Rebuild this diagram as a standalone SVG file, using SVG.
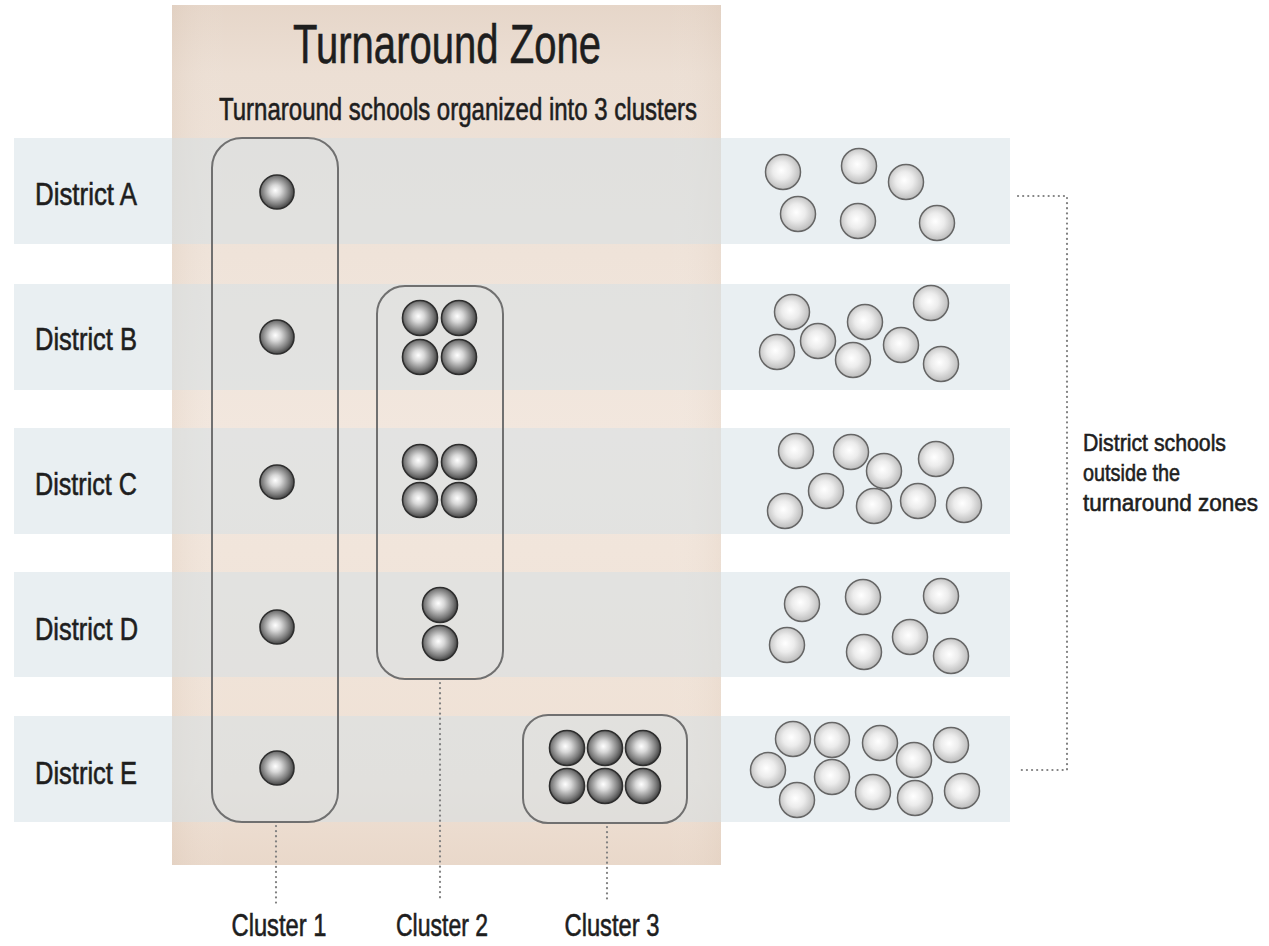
<svg xmlns="http://www.w3.org/2000/svg" width="1269" height="946" viewBox="0 0 1269 946">
<defs>
<style>
text{font-family:"Liberation Sans","DejaVu Sans",sans-serif;fill:#1e1e1e;stroke:#1e1e1e;stroke-width:0.6}
.dist{font-size:32px}
.clab{font-size:32px;text-anchor:middle}
.band{fill:#d4dfe6;opacity:.5}
.cl{fill:none;stroke:#707070;stroke-width:2}
.db{fill:url(#dark);stroke:#2e2e2e;stroke-width:1.6}
.lb{fill:url(#light);stroke:#666;stroke-width:1.5}
.dot{fill:none;stroke:#808080;stroke-width:2.2;stroke-linecap:round;stroke-dasharray:0.1 5}
</style>
<linearGradient id="zoneg" x1="0" y1="0" x2="0" y2="1">
<stop offset="0" stop-color="#e6d6c9"/>
<stop offset="0.08" stop-color="#ecdfd4"/>
<stop offset="0.5" stop-color="#f2e7de"/>
<stop offset="0.9" stop-color="#efe1d5"/>
<stop offset="1" stop-color="#e9d8ca"/>
</linearGradient>
<linearGradient id="zoneh" x1="0" y1="0" x2="1" y2="0">
<stop offset="0" stop-color="#c9b09a" stop-opacity="0.15"/>
<stop offset="0.1" stop-color="#ffffff" stop-opacity="0"/>
<stop offset="0.9" stop-color="#ffffff" stop-opacity="0"/>
<stop offset="1" stop-color="#c9b09a" stop-opacity="0.12"/>
</linearGradient>
<radialGradient id="dark" cx="0.47" cy="0.47" r="0.55" fx="0.45" fy="0.45">
<stop offset="0" stop-color="#ffffff"/>
<stop offset="0.3" stop-color="#d8d8d8"/>
<stop offset="0.75" stop-color="#7a7a7a"/>
<stop offset="1" stop-color="#3c3c3c"/>
</radialGradient>
<radialGradient id="light" cx="0.47" cy="0.47" r="0.55" fx="0.45" fy="0.45">
<stop offset="0" stop-color="#ffffff"/>
<stop offset="0.45" stop-color="#ececec"/>
<stop offset="1" stop-color="#b9b9b9"/>
</radialGradient>
</defs>

<rect width="1269" height="946" fill="#ffffff"/>

<g id="zone">
<rect x="172" y="5" width="549" height="860" fill="url(#zoneg)"/>
<rect x="172" y="5" width="549" height="860" fill="url(#zoneh)"/>
</g>

<g id="bands">
<rect class="band" x="14" y="138" width="996" height="106"/>
<rect class="band" x="14" y="284" width="996" height="106"/>
<rect class="band" x="14" y="428" width="996" height="106"/>
<rect class="band" x="14" y="572" width="996" height="105"/>
<rect class="band" x="14" y="716" width="996" height="106"/>
</g>

<g id="titles">
<text x="447" y="63" font-size="56" text-anchor="middle" textLength="308" lengthAdjust="spacingAndGlyphs">Turnaround Zone</text>
<text x="458" y="120" font-size="31" text-anchor="middle" textLength="478" lengthAdjust="spacingAndGlyphs">Turnaround schools organized into 3 clusters</text>
</g>

<g id="district-labels">
<text class="dist" x="35" y="205" textLength="102" lengthAdjust="spacingAndGlyphs">District A</text>
<text class="dist" x="35" y="350" textLength="102" lengthAdjust="spacingAndGlyphs">District B</text>
<text class="dist" x="35" y="495" textLength="102" lengthAdjust="spacingAndGlyphs">District C</text>
<text class="dist" x="35" y="640" textLength="103" lengthAdjust="spacingAndGlyphs">District D</text>
<text class="dist" x="35" y="784" textLength="102" lengthAdjust="spacingAndGlyphs">District E</text>
</g>

<g id="cluster1">
<rect class="cl" x="212" y="138" width="126" height="684" rx="30"/>
<circle class="db" cx="277" cy="192" r="17"/>
<circle class="db" cx="277" cy="337" r="17"/>
<circle class="db" cx="277" cy="482" r="17"/>
<circle class="db" cx="277" cy="627" r="17"/>
<circle class="db" cx="277" cy="768" r="17"/>
</g>

<g id="cluster2">
<rect class="cl" x="377" y="286" width="126" height="393" rx="28"/>
<circle class="db" cx="420" cy="318" r="17.5"/>
<circle class="db" cx="459" cy="318" r="17.5"/>
<circle class="db" cx="420" cy="357" r="17.5"/>
<circle class="db" cx="459" cy="357" r="17.5"/>
<circle class="db" cx="420" cy="462" r="17.5"/>
<circle class="db" cx="459" cy="462" r="17.5"/>
<circle class="db" cx="420" cy="500" r="17.5"/>
<circle class="db" cx="459" cy="500" r="17.5"/>
<circle class="db" cx="440" cy="605" r="17.5"/>
<circle class="db" cx="440" cy="643" r="17.5"/>
</g>

<g id="cluster3">
<rect class="cl" x="523" y="715" width="164" height="108" rx="25"/>
<circle class="db" cx="567" cy="748" r="17.5"/>
<circle class="db" cx="605" cy="748" r="17.5"/>
<circle class="db" cx="643" cy="748" r="17.5"/>
<circle class="db" cx="567" cy="786" r="17.5"/>
<circle class="db" cx="605" cy="786" r="17.5"/>
<circle class="db" cx="643" cy="786" r="17.5"/>
</g>

<g id="outside-a">
<circle class="lb" cx="783" cy="172" r="17.5"/>
<circle class="lb" cx="859" cy="166" r="17.5"/>
<circle class="lb" cx="906" cy="182" r="17.5"/>
<circle class="lb" cx="798" cy="214" r="17.5"/>
<circle class="lb" cx="858" cy="221" r="17.5"/>
<circle class="lb" cx="937" cy="223" r="17.5"/>
</g>
<g id="outside-b">
<circle class="lb" cx="931" cy="303" r="17.5"/>
<circle class="lb" cx="792" cy="312" r="17.5"/>
<circle class="lb" cx="865" cy="322" r="17.5"/>
<circle class="lb" cx="818" cy="341" r="17.5"/>
<circle class="lb" cx="777" cy="352" r="17.5"/>
<circle class="lb" cx="901" cy="345" r="17.5"/>
<circle class="lb" cx="853" cy="360" r="17.5"/>
<circle class="lb" cx="941" cy="364" r="17.5"/>
</g>
<g id="outside-c">
<circle class="lb" cx="796" cy="451" r="17.5"/>
<circle class="lb" cx="851" cy="452" r="17.5"/>
<circle class="lb" cx="936" cy="459" r="17.5"/>
<circle class="lb" cx="884" cy="471" r="17.5"/>
<circle class="lb" cx="826" cy="491" r="17.5"/>
<circle class="lb" cx="785" cy="511" r="17.5"/>
<circle class="lb" cx="874" cy="506" r="17.5"/>
<circle class="lb" cx="918" cy="501" r="17.5"/>
<circle class="lb" cx="964" cy="505" r="17.5"/>
</g>
<g id="outside-d">
<circle class="lb" cx="802" cy="604" r="17.5"/>
<circle class="lb" cx="863" cy="597" r="17.5"/>
<circle class="lb" cx="941" cy="596" r="17.5"/>
<circle class="lb" cx="787" cy="645" r="17.5"/>
<circle class="lb" cx="864" cy="652" r="17.5"/>
<circle class="lb" cx="910" cy="637" r="17.5"/>
<circle class="lb" cx="951" cy="656" r="17.5"/>
</g>
<g id="outside-e">
<circle class="lb" cx="793" cy="739" r="17.5"/>
<circle class="lb" cx="832" cy="740" r="17.5"/>
<circle class="lb" cx="880" cy="743" r="17.5"/>
<circle class="lb" cx="951" cy="745" r="17.5"/>
<circle class="lb" cx="914" cy="760" r="17.5"/>
<circle class="lb" cx="768" cy="770" r="17.5"/>
<circle class="lb" cx="832" cy="777" r="17.5"/>
<circle class="lb" cx="797" cy="800" r="17.5"/>
<circle class="lb" cx="873" cy="792" r="17.5"/>
<circle class="lb" cx="915" cy="798" r="17.5"/>
<circle class="lb" cx="962" cy="791" r="17.5"/>
</g>

<g id="connectors">
<path class="dot" d="M276 826 V903"/>
<path class="dot" d="M440 683 V900"/>
<path class="dot" d="M607 827 V902"/>
<path class="dot" d="M1018 196 H1067 V770 H1018"/>
</g>

<g id="cluster-labels">
<text class="clab" x="279" y="936" textLength="95" lengthAdjust="spacingAndGlyphs">Cluster 1</text>
<text class="clab" x="442" y="936" textLength="92" lengthAdjust="spacingAndGlyphs">Cluster 2</text>
<text class="clab" x="612" y="936" textLength="95" lengthAdjust="spacingAndGlyphs">Cluster 3</text>
</g>

<g id="outside-label">
<text x="1083" y="451" font-size="24" textLength="143" lengthAdjust="spacingAndGlyphs">District schools</text>
<text x="1083" y="481" font-size="24" textLength="97" lengthAdjust="spacingAndGlyphs">outside the</text>
<text x="1083" y="511" font-size="24" textLength="175" lengthAdjust="spacingAndGlyphs">turnaround zones</text>
</g>
</svg>
